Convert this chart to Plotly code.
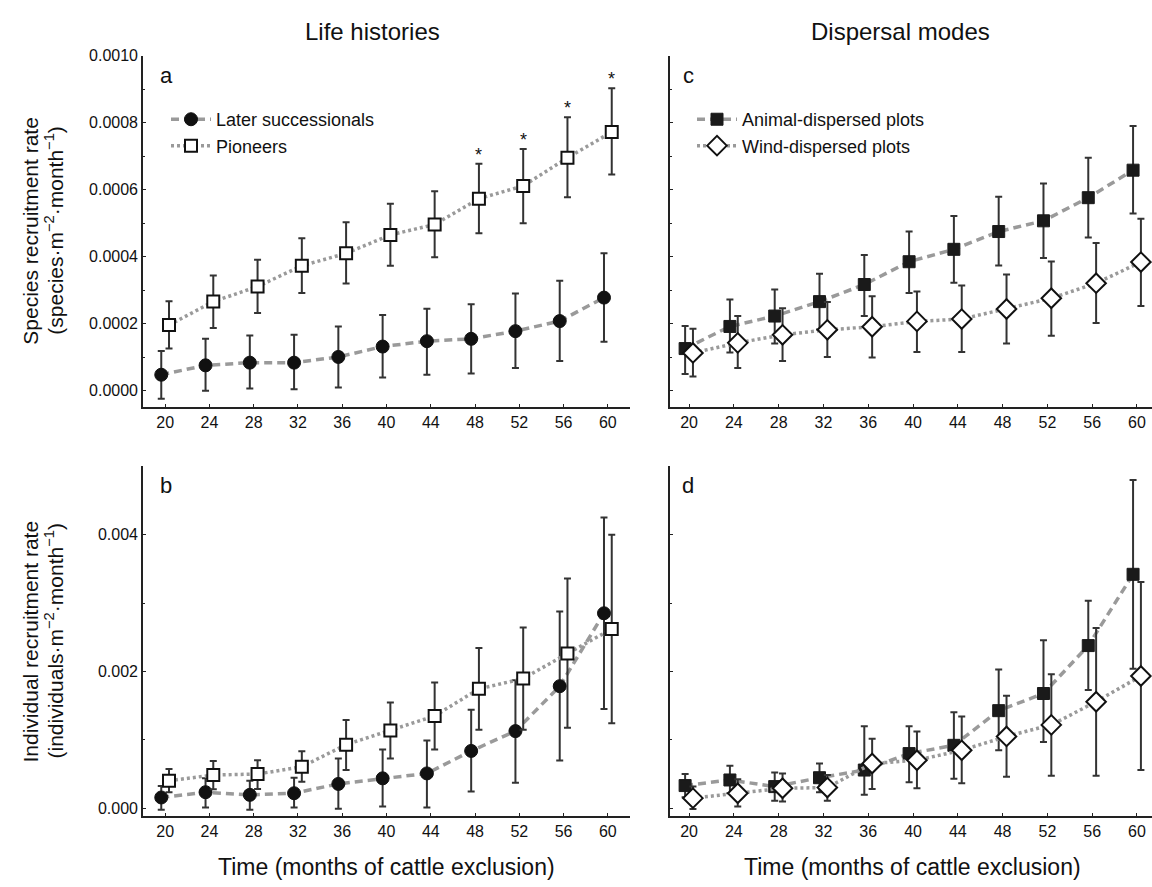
import plotly.graph_objects as go

months = [20, 24, 28, 32, 36, 40, 44, 48, 52, 56, 60]
tick_vals = [20, 24, 28, 32, 36, 40, 44, 48, 52, 56, 60]

# Panel a: species recruitment rate, life histories
later_sp = [0.000048, 0.000076, 0.000084, 0.000084, 0.000101, 0.000132, 0.000148, 0.000155, 0.000178, 0.000208, 0.000278]
later_sp_hi = [0.000119, 0.000155, 0.000165, 0.000167, 0.000192, 0.000226, 0.000245, 0.000258, 0.000290, 0.000328, 0.000410]
later_sp_lo = [-0.000024, 0.000000, 0.000007, 0.000005, 0.000010, 0.000040, 0.000048, 0.000052, 0.000068, 0.000089, 0.000146]
pioneer_sp = [0.000196, 0.000266, 0.000311, 0.000373, 0.000410, 0.000465, 0.000496, 0.000573, 0.000611, 0.000695, 0.000772]
pioneer_sp_hi = [0.000267, 0.000344, 0.000391, 0.000455, 0.000503, 0.000558, 0.000595, 0.000677, 0.000721, 0.000816, 0.000902]
pioneer_sp_lo = [0.000126, 0.000187, 0.000232, 0.000292, 0.000320, 0.000373, 0.000398, 0.000470, 0.000500, 0.000577, 0.000645]
pioneer_sig = [False, False, False, False, False, False, False, True, True, True, True]

# Panel c: species recruitment rate, dispersal modes
animal_sp = [0.000126, 0.000192, 0.000223, 0.000266, 0.000317, 0.000385, 0.000422, 0.000475, 0.000507, 0.000576, 0.000658]
animal_sp_hi = [0.000193, 0.000272, 0.000302, 0.000349, 0.000405, 0.000475, 0.000521, 0.000579, 0.000618, 0.000695, 0.000790]
animal_sp_lo = [0.000050, 0.000114, 0.000141, 0.000183, 0.000223, 0.000292, 0.000322, 0.000374, 0.000396, 0.000457, 0.000529]
wind_sp = [0.000113, 0.000143, 0.000167, 0.000182, 0.000191, 0.000207, 0.000214, 0.000244, 0.000276, 0.000321, 0.000384]
wind_sp_hi = [0.000185, 0.000223, 0.000246, 0.000265, 0.000282, 0.000296, 0.000314, 0.000347, 0.000386, 0.000441, 0.000513]
wind_sp_lo = [0.000043, 0.000068, 0.000089, 0.000101, 0.000099, 0.000116, 0.000116, 0.000141, 0.000164, 0.000202, 0.000253]

# Panel b: individual recruitment rate, life histories
later_ind = [0.000155, 0.000232, 0.000193, 0.000217, 0.000353, 0.000435, 0.000507, 0.000836, 0.001126, 0.001783, 0.002850]
later_ind_hi = [0.000324, 0.000435, 0.000400, 0.000444, 0.000725, 0.000855, 0.000990, 0.001440, 0.001870, 0.002874, 0.004250]
later_ind_lo = [-0.000024, 0.000010, -0.000024, 0.000010, -0.000010, 0.000024, 0.000010, 0.000242, 0.000372, 0.000696, 0.001450]
pioneer_ind = [0.000401, 0.000483, 0.000498, 0.000604, 0.000928, 0.001135, 0.001348, 0.001744, 0.001894, 0.002261, 0.002620]
pioneer_ind_hi = [0.000570, 0.000690, 0.000700, 0.000830, 0.001290, 0.001546, 0.001836, 0.002343, 0.002643, 0.003357, 0.004000]
pioneer_ind_lo = [0.000232, 0.000275, 0.000280, 0.000386, 0.000556, 0.000725, 0.000855, 0.001145, 0.001145, 0.001174, 0.001240]

# Panel d: individual recruitment rate, dispersal modes
animal_ind = [0.000329, 0.000411, 0.000314, 0.000444, 0.000556, 0.000797, 0.000918, 0.001425, 0.001676, 0.002377, 0.003420]
animal_ind_hi = [0.000498, 0.000618, 0.000522, 0.000652, 0.001198, 0.001198, 0.001401, 0.002029, 0.002454, 0.003034, 0.004800]
animal_ind_lo = [0.000159, 0.000217, 0.000106, 0.000232, 0.000193, 0.000377, 0.000430, 0.000845, 0.000966, 0.001729, 0.002039]
wind_ind = [0.000145, 0.000217, 0.000290, 0.000300, 0.000652, 0.000700, 0.000845, 0.001048, 0.001217, 0.001556, 0.001932]
wind_ind_hi = [0.000314, 0.000420, 0.000507, 0.000483, 0.001014, 0.001120, 0.001338, 0.001643, 0.001957, 0.002633, 0.003309]
wind_ind_lo = [-0.000015, 0.000024, 0.000097, 0.000106, 0.000280, 0.000290, 0.000362, 0.000459, 0.000473, 0.000473, 0.000556]

FONT = "Liberation Sans, Arial, sans-serif"
W, H = 1152, 887
OFF = 0.35
LINE_GREY = "#9a9a9a"
ERR_COL = "#333333"
TXT = "#111111"


def px_x(p):
    return p / W


def px_y(p):
    return 1 - p / H


def err(mean, hi, lo):
    return dict(type="data", symmetric=False,
                array=[h - m for h, m in zip(hi, mean)],
                arrayminus=[m - l for m, l in zip(mean, lo)],
                color=ERR_COL, thickness=2, width=3.5)


def series(name, mean, hi, lo, shift, ax, dash, marker, legend=None, show=False):
    return go.Scatter(
        x=[m + shift for m in months], y=mean, name=name,
        mode="lines+markers",
        line=dict(color=LINE_GREY, width=3.5, dash=dash),
        marker=marker,
        error_y=err(mean, hi, lo),
        xaxis="x" + ax, yaxis="y" + ax,
        showlegend=show, legend=legend,
    )


DASH = "8px,5px"
DOT = "3px,3px"
circle_m = dict(symbol="circle", size=13, color="#111111", line=dict(color="#111111", width=1))
square_open = dict(symbol="square", size=12, color="white", line=dict(color="#111111", width=2))
square_fill = dict(symbol="square", size=12, color="#1a1a1a", line=dict(color="#1a1a1a", width=1))
diamond_open = dict(symbol="diamond", size=15, color="white", line=dict(color="#111111", width=2))

fig = go.Figure()
# a
fig.add_trace(series("Later successionals", later_sp, later_sp_hi, later_sp_lo, -OFF, "", DASH, circle_m, "legend", True))
fig.add_trace(series("Pioneers", pioneer_sp, pioneer_sp_hi, pioneer_sp_lo, OFF, "", DOT, square_open, "legend", True))
# b
fig.add_trace(series("Later successionals", later_ind, later_ind_hi, later_ind_lo, -OFF, "2", DASH, circle_m))
fig.add_trace(series("Pioneers", pioneer_ind, pioneer_ind_hi, pioneer_ind_lo, OFF, "2", DOT, square_open))
# c
fig.add_trace(series("Animal-dispersed plots", animal_sp, animal_sp_hi, animal_sp_lo, -OFF, "3", DASH, square_fill, "legend2", True))
fig.add_trace(series("Wind-dispersed plots", wind_sp, wind_sp_hi, wind_sp_lo, OFF, "3", DOT, diamond_open, "legend2", True))
# d
fig.add_trace(series("Animal-dispersed plots", animal_ind, animal_ind_hi, animal_ind_lo, -OFF, "4", DASH, square_fill))
fig.add_trace(series("Wind-dispersed plots", wind_ind, wind_ind_hi, wind_ind_lo, OFF, "4", DOT, diamond_open))

# significance asterisks
for m, hi, s in zip(months, pioneer_sp_hi, pioneer_sig):
    if s:
        fig.add_annotation(x=m + OFF, y=hi, xref="x", yref="y", text="*", showarrow=False,
                           yanchor="bottom", yshift=-3, font=dict(size=18, color=TXT, family=FONT))

axis_common = dict(showline=True, linecolor="#222", linewidth=1.6, ticks="inside", ticklen=3,
                   tickcolor="#222", tickwidth=1, showgrid=False, zeroline=False,
                   tickfont=dict(size=16, color=TXT, family=FONT))

x_left = [px_x(143), px_x(630)]
x_right = [px_x(670), 1.0]
y_top = [px_y(403), px_y(48)]
y_bot = [px_y(816), px_y(463)]

xtick = dict(tickmode="array", tickvals=tick_vals, ticktext=[str(v) for v in tick_vals])

fig.update_layout(
    width=W, height=H,
    margin=dict(l=0, r=0, t=0, b=0),
    paper_bgcolor="white", plot_bgcolor="white",
    font=dict(family=FONT, color=TXT),
    xaxis=dict(domain=x_left, range=[18.0, 62.0], anchor="y", **xtick, **axis_common),
    yaxis=dict(domain=y_top, range=[-0.000048, 0.001], anchor="x", tickmode="array",
               tickvals=[0, 0.0002, 0.0004, 0.0006, 0.0008, 0.001],
               ticktext=["0.0000", "0.0002", "0.0004", "0.0006", "0.0008", "0.0010"],
               minor=dict(dtick=0.0001, tick0=0, ticks="inside", ticklen=2, tickcolor="#222"),
               **axis_common),
    xaxis2=dict(domain=x_left, range=[18.0, 62.0], anchor="y2", **xtick, **axis_common),
    yaxis2=dict(domain=y_bot, range=[-0.000112, 0.005], anchor="x2", tickmode="array",
                tickvals=[0, 0.002, 0.004], ticktext=["0.000", "0.002", "0.004"],
                minor=dict(dtick=0.001, tick0=0, ticks="inside", ticklen=2, tickcolor="#222"),
                **axis_common),
    xaxis3=dict(domain=x_right, range=[18.3, 61.34], anchor="y3", **xtick, **axis_common),
    yaxis3=dict(domain=y_top, range=[-0.000048, 0.001], anchor="x3", showticklabels=False,
                tickmode="array", tickvals=[0, 0.0002, 0.0004, 0.0006, 0.0008, 0.001],
                minor=dict(dtick=0.0001, tick0=0, ticks="inside", ticklen=2, tickcolor="#222"),
                **axis_common),
    xaxis4=dict(domain=x_right, range=[18.3, 61.34], anchor="y4", **xtick, **axis_common),
    yaxis4=dict(domain=y_bot, range=[-0.000112, 0.005], anchor="x4", showticklabels=False,
                tickmode="array", tickvals=[0, 0.002, 0.004],
                minor=dict(dtick=0.001, tick0=0, ticks="inside", ticklen=2, tickcolor="#222"),
                **axis_common),
    legend=dict(x=px_x(166), y=px_y(94), xanchor="left", yanchor="top",
                bgcolor="rgba(0,0,0,0)", font=dict(size=18, family=FONT, color=TXT),
                itemwidth=40, tracegroupgap=0),
    legend2=dict(x=px_x(692), y=px_y(94), xanchor="left", yanchor="top",
                 bgcolor="rgba(0,0,0,0)", font=dict(size=18, family=FONT, color=TXT),
                 itemwidth=40, tracegroupgap=0),
)


def label(xp, yp, text, size, angle=0):
    fig.add_annotation(x=px_x(xp), y=px_y(yp), xref="paper", yref="paper", text=text,
                       showarrow=False, xanchor="center", yanchor="middle", textangle=angle,
                       font=dict(size=size, family=FONT, color=TXT))


# column titles
label(372, 24, "Life histories", 24)
label(900, 24, "Dispersal modes", 24)

# panel letters
for lx, ly, t in [(166, 68, "a"), (166, 482, "b"), (688, 68, "c"), (688, 482, "d")]:
    label(lx, ly, t, 22)

# x axis titles
for cx in (386, 912):
    label(cx, 868, "Time (months of cattle exclusion)", 23)

# y axis titles (two lines each)
for cy, l1, l2 in [(225, "Species recruitment rate", "(species·m<sup>−2</sup>·month<sup>−1</sup>)"),
                   (640, "Individual recruitment rate", "(individuals·m<sup>−2</sup>·month<sup>−1</sup>)")]:
    label(31, cy, l1, 21, -90)
    label(54, cy, l2, 21, -90)

fig.write_html("out.html", post_script="document.body.style.margin='0';",
               config={"displayModeBar": False})
